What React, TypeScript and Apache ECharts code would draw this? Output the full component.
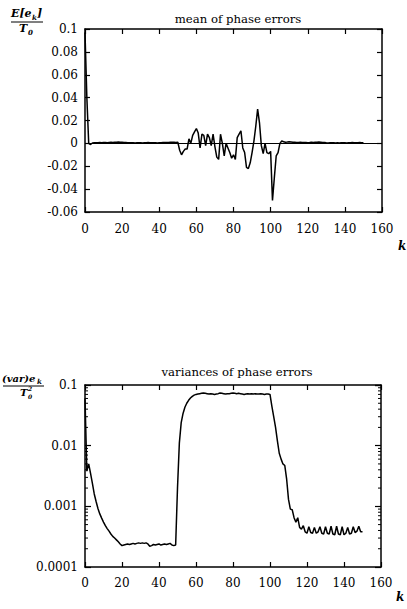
import React, { useEffect, useRef } from "react";
import * as echarts from "echarts";

const meanValues: number[] = [
  0.097, 0.04, 0.0, -0.001, 0.0003, 0.0005, 0.0006, 0.0005, 0.0007, 0.0006,
  0.0008, 0.0007, 0.0006, 0.0008, 0.0009, 0.0008, 0.001, 0.0009, 0.0011, 0.001,
  0.0009, 0.0008, 0.0007, 0.0006, 0.0005, 0.0006, 0.0005, 0.0004, 0.0005, 0.0006,
  0.0005, 0.0004, 0.0005, 0.0006, 0.0007, 0.0006, 0.0005, 0.0006, 0.0005, 0.0004,
  0.0005, 0.0006, 0.0007, 0.0008, 0.0007, 0.0008, 0.0009, 0.001, 0.0009, 0.0008,
  0.001, -0.006, -0.01, -0.007, -0.005, -0.005, 0.004, 0.0, 0.007, 0.01,
  0.013, 0.009, -0.004, 0.008, 0.007, -0.002, 0.008, 0.005, -0.002, 0.008,
  -0.003, -0.012, -0.014, 0.008, 0.0, -0.011, 0.0, -0.004, -0.008, -0.013,
  -0.01, -0.014, 0.005, 0.008, 0.011, -0.004, -0.008, -0.021, -0.022, -0.017,
  -0.008, 0.002, 0.015, 0.03, 0.018, -0.002, -0.009, 0.0, -0.008, -0.009,
  -0.007, -0.05, -0.03, -0.011, -0.008, 0.0, 0.002, 0.0015, 0.001, 0.0012,
  0.0015, 0.0013, 0.001, 0.0009, 0.0008, 0.0007, 0.0009, 0.0008, 0.0007, 0.0008,
  0.0006, 0.0007, 0.0009, 0.0008, 0.001, 0.0009, 0.0011, 0.001, 0.0008, 0.0007,
  0.0005, 0.0004, 0.0005, 0.0006, 0.0005, 0.0004, 0.0005, 0.0004, 0.0005, 0.0006,
  0.0005, 0.0004, 0.0005, 0.0006, 0.0007, 0.0006, 0.0005, 0.0006, 0.0007, 0.0006,
  0.0005,
];

const varValues: number[] = [
  0.06, 0.0038, 0.005, 0.0035, 0.0024, 0.0016, 0.0012, 0.00092, 0.00075, 0.00064,
  0.00055, 0.00048, 0.00043, 0.00039, 0.00035, 0.00032, 0.0003, 0.00028, 0.00026, 0.00024,
  0.000225, 0.00023, 0.000235, 0.00024, 0.000235, 0.00024, 0.000245, 0.00024, 0.000245, 0.00025,
  0.000245, 0.00025, 0.000245, 0.00025, 0.00024, 0.00022, 0.000225, 0.000235, 0.00023, 0.000235,
  0.00024, 0.00023, 0.000235, 0.00024, 0.000235, 0.00024, 0.000245, 0.00023, 0.000225, 0.00023,
  0.002, 0.011, 0.024, 0.034, 0.043, 0.05, 0.056, 0.061, 0.065, 0.068,
  0.07, 0.071, 0.072, 0.073, 0.074, 0.073, 0.072, 0.071, 0.072, 0.071,
  0.07, 0.071, 0.072, 0.074, 0.073, 0.072, 0.071, 0.072, 0.072, 0.073,
  0.074, 0.073, 0.072, 0.073, 0.072, 0.071, 0.07, 0.071, 0.072, 0.071,
  0.072, 0.071, 0.072, 0.071, 0.071, 0.072, 0.071, 0.07, 0.071, 0.071,
  0.07, 0.045, 0.03, 0.02, 0.012, 0.0075, 0.006, 0.005, 0.0047, 0.0028,
  0.0013, 0.0009, 0.00088, 0.00065, 0.00055, 0.00065, 0.00045, 0.00042, 0.00048, 0.00038,
  0.00036, 0.00046, 0.00037, 0.00036, 0.00045, 0.00036, 0.00038, 0.00046, 0.00036, 0.00035,
  0.00046, 0.00036, 0.00035, 0.00047, 0.00035, 0.00034, 0.00047, 0.00035, 0.00034, 0.00046,
  0.00034, 0.00036, 0.00045, 0.00035, 0.00036, 0.00046, 0.00037, 0.00039, 0.00047, 0.00038,
  0.00038,
];

const logMinorTicks: number[] = [
  0.0002, 0.0003, 0.0004, 0.0005, 0.0006, 0.0007, 0.0008, 0.0009,
  0.002, 0.003, 0.004, 0.005, 0.006, 0.007, 0.008, 0.009,
  0.02, 0.03, 0.04, 0.05, 0.06, 0.07, 0.08, 0.09,
];

const titles = ["mean of phase errors", "variances of phase errors"];

const FONT = "DejaVu Serif";

export default function App() {
  const ref = useRef<HTMLDivElement>(null);
  useEffect(() => {
    if (!ref.current) return;
    const chart = echarts.init(ref.current, null, { renderer: "svg" });

    const axisLine = { show: true, onZero: false, lineStyle: { color: "#000", width: 1.5 } };
    const tick = { show: true, inside: true, length: 5, lineStyle: { color: "#000", width: 1.2 } };
    const label = { color: "#000", fontFamily: FONT, fontSize: 12 };

    const xBase = (grid: number, pos: "bottom" | "top", show: boolean, margin: number) => ({
      type: "value",
      gridIndex: grid,
      position: pos,
      min: 0,
      max: 160,
      interval: 20,
      axisLine,
      axisTick: tick,
      axisLabel: { show, ...label, margin },
      splitLine: { show: false },
    });

    const yLin = (pos: "left" | "right", show: boolean) => ({
      type: "value",
      gridIndex: 0,
      position: pos,
      min: -0.06,
      max: 0.1,
      interval: 0.02,
      axisLine,
      axisTick: tick,
      axisLabel: {
        show,
        ...label,
        margin: 7,
        formatter: (v: number) => String(parseFloat(v.toFixed(2))),
      },
      splitLine: { show: false },
    });

    const yLog = (pos: "left" | "right", show: boolean) => ({
      type: "log",
      logBase: 10,
      gridIndex: 1,
      position: pos,
      min: 0.0001,
      max: 0.1,
      axisLine,
      axisTick: { ...tick, length: 6 },
      axisLabel: {
        show,
        ...label,
        margin: 7,
        formatter: (v: number) => String(parseFloat(v.toPrecision(1))),
      },
      splitLine: { show: false },
    });

    const titleStyle = { fontFamily: FONT, fontSize: 11.7, fontWeight: "normal", color: "#000" };

    const option: any = {
      animation: false,
      backgroundColor: "#fff",
      title: [
        { text: titles[0], left: 233, top: 8, textAlign: "center", textStyle: titleStyle },
        { text: titles[1], left: 232, top: 361, textAlign: "center", textStyle: titleStyle },
      ],
      grid: [
        { left: 85, top: 29, width: 297, height: 183 },
        { left: 85, top: 385, width: 296, height: 182 },
      ],
      xAxis: [
        xBase(0, "bottom", true, 11),
        xBase(0, "top", false, 8),
        xBase(1, "bottom", true, 10),
        xBase(1, "top", false, 8),
      ],
      yAxis: [yLin("left", true), yLin("right", false), yLog("left", true), yLog("right", false)],
      series: [
        {
          type: "line",
          xAxisIndex: 0,
          yAxisIndex: 0,
          data: meanValues.map((v, i) => [i, v]),
          showSymbol: false,
          lineStyle: { color: "#000", width: 1.5 },
          markLine: {
            silent: true,
            symbol: "none",
            label: { show: false },
            lineStyle: { color: "#000", width: 1.2, type: "solid" },
            data: [{ yAxis: 0 }],
          },
        },
        {
          type: "line",
          xAxisIndex: 2,
          yAxisIndex: 2,
          data: varValues.map((v, i) => [i, v]),
          showSymbol: false,
          lineStyle: { color: "#000", width: 1.5 },
        },
        {
          type: "custom",
          xAxisIndex: 2,
          yAxisIndex: 2,
          data: logMinorTicks.map((v) => [0, v]),
          renderItem: (params: any, api: any) => {
            const v = api.value(1);
            const l = api.coord([0, v]);
            const r = api.coord([160, v]);
            return {
              type: "group",
              children: [
                { type: "line", shape: { x1: l[0], y1: l[1], x2: l[0] + 3, y2: l[1] }, style: { stroke: "#000", lineWidth: 1 } },
                { type: "line", shape: { x1: r[0], y1: r[1], x2: r[0] - 3, y2: r[1] }, style: { stroke: "#000", lineWidth: 1 } },
              ],
            };
          },
        },
      ],
      graphic: [
        // top fraction
        { type: "text", left: 11, top: 8, style: { text: "E[e", font: `bold italic 11px '${FONT}'`, fill: "#000" } },
        { type: "text", left: 32, top: 14, style: { text: "k", font: `bold italic 7px '${FONT}'`, fill: "#000" } },
        { type: "text", left: 37, top: 8, style: { text: "]", font: `bold italic 11px '${FONT}'`, fill: "#000" } },
        { type: "line", shape: { x1: 11, y1: 22, x2: 43, y2: 22 }, style: { stroke: "#000", lineWidth: 1 } },
        { type: "text", left: 19, top: 23, style: { text: "T", font: `bold italic 11px '${FONT}'`, fill: "#000" } },
        { type: "text", left: 28, top: 29, style: { text: "0", font: `bold italic 7px '${FONT}'`, fill: "#000" } },
        // bottom fraction
        { type: "text", left: 2, top: 373, style: { text: "(var)e", font: `bold italic 10px '${FONT}'`, fill: "#000" } },
        { type: "text", left: 37, top: 378, style: { text: "k", font: `bold italic 7px '${FONT}'`, fill: "#000" } },
        { type: "line", shape: { x1: 3, y1: 386, x2: 44, y2: 386 }, style: { stroke: "#000", lineWidth: 1 } },
        { type: "text", left: 20, top: 387, style: { text: "T", font: `bold italic 10px '${FONT}'`, fill: "#000" } },
        { type: "text", left: 28, top: 385, style: { text: "2", font: `bold italic 6px '${FONT}'`, fill: "#000" } },
        { type: "text", left: 28, top: 393, style: { text: "0", font: `bold italic 6px '${FONT}'`, fill: "#000" } },
        // k labels
        { type: "text", left: 398, top: 240, style: { text: "k", font: `bold italic 12px '${FONT}'`, fill: "#000" } },
        { type: "text", left: 396, top: 591, style: { text: "k", font: `bold italic 12px '${FONT}'`, fill: "#000" } },
      ],
    };

    chart.setOption(option);
    return () => chart.dispose();
  }, []);

  return (
    <div
      ref={ref}
      style={{ position: "absolute", left: 0, top: 0, width: 407, height: 609, background: "#fff" }}
    />
  );
}
